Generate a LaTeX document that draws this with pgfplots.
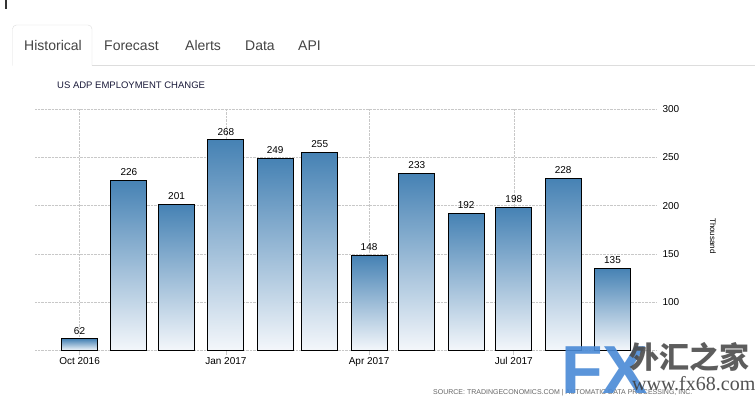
\documentclass[border=0pt]{standalone}
\usepackage{pgfplots}
\pgfplotsset{compat=1.18}
\usepackage{fontspec}
\setmainfont{Liberation Sans}
\newfontfamily\cjk{Noto Sans CJK SC}
\newfontfamily\serifw{Liberation Serif}
\definecolor{bartop}{HTML}{4682B4}
\definecolor{barbot}{HTML}{F4F7FB}
\definecolor{gridc}{HTML}{C8C8C8}
\definecolor{titlec}{HTML}{1A1A3A}
\definecolor{tabtxt}{HTML}{444444}
\definecolor{tabline}{HTML}{DDDDDD}
\definecolor{fxblue}{HTML}{4A8AD6}
\tikzset{barstyle/.style={draw=black, line width=0.9bp, top color=bartop, bottom color=barbot}}
\begin{document}
\begin{tikzpicture}[x=1bp,y=1bp]
\path[use as bounding box] (0,0) rectangle (755,398);
\fill[white] (0,0) rectangle (755,398);
% top fragment
\draw[black!80, line width=1.2bp] (6,398) -- (6,389);
% tabs
\draw[tabline] (92,332.5) -- (755,332.5);
\draw[tabline, rounded corners=4bp] (12.5,332.5) -- (12.5,373) -- (92,373) -- (92,332.5);
\node[anchor=base west, inner sep=0, text=tabtxt, font=\fontsize{14bp}{16bp}\selectfont] at (24,348) {Historical};
\node[anchor=base west, inner sep=0, text=tabtxt, font=\fontsize{14bp}{16bp}\selectfont] at (104,348) {Forecast};
\node[anchor=base west, inner sep=0, text=tabtxt, font=\fontsize{14bp}{16bp}\selectfont] at (185,348) {Alerts};
\node[anchor=base west, inner sep=0, text=tabtxt, font=\fontsize{14bp}{16bp}\selectfont] at (245,348) {Data};
\node[anchor=base west, inner sep=0, text=tabtxt, font=\fontsize{14bp}{16bp}\selectfont] at (298,348) {API};
% title
\node[anchor=base west, inner sep=0, text=titlec, font=\fontsize{9.5bp}{11bp}\selectfont] at (57,310) {US ADP EMPLOYMENT CHANGE};
\begin{axis}[
  at={(35bp,47.5bp)}, anchor=south west,
  scale only axis, width=622bp, height=241.5bp,
  xmin=-28, xmax=363, ymin=50, ymax=300,
  axis x line*=bottom, axis y line*=right,
  axis line style={draw=none},
  xtick={0,92,182,273},
  xticklabels={Oct 2016,Jan 2017,Apr 2017,Jul 2017},
  ytick={100,150,200,250,300},
  extra y ticks={50}, extra y tick labels={},
  extra y tick style={grid=major},
  grid=major,
  major grid style={gridc, densely dotted, line width=0.6bp},
  tick align=outside,
  major tick length=4bp,
  xtick style={draw=gridc, line width=0.8bp},
  ytick style={draw=none},
  /pgf/number format/assume math mode=true,
  tick label style={font=\fontsize{10bp}{12bp}\selectfont, text=black},
  xticklabel style={yshift=1bp},
  yticklabel pos=right,
  yticklabel style={anchor=west, xshift=-2bp},
  ybar, bar width=22.6, bar shift=0pt,
  nodes near coords,
  nodes near coords style={font=\fontsize{10bp}{12bp}\selectfont, text=black, yshift=1bp},
]
\addplot[barstyle] coordinates {(0,62)};
\addplot[barstyle] coordinates {(31,226)};
\addplot[barstyle] coordinates {(61,201)};
\addplot[barstyle] coordinates {(92,268)};
\addplot[barstyle] coordinates {(123,249)};
\addplot[barstyle] coordinates {(151,255)};
\addplot[barstyle] coordinates {(182,148)};
\addplot[barstyle] coordinates {(212,233)};
\addplot[barstyle] coordinates {(243,192)};
\addplot[barstyle] coordinates {(273,198)};
\addplot[barstyle] coordinates {(304,228)};
\addplot[barstyle] coordinates {(335,135)};
\end{axis}
\node[rotate=-90, inner sep=0, text=black, font=\fontsize{8bp}{9bp}\selectfont] at (713,162) {Thousand};
% source
\node[anchor=base west, inner sep=0, text=black!60, font=\fontsize{7bp}{8bp}\selectfont] at (433,3.5) {SOURCE: TRADINGECONOMICS.COM | AUTOMATIC DATA PROCESSING, INC.};
% watermark
\node[anchor=base west, inner sep=0, text=fxblue, font=\fontsize{68bp}{70bp}\selectfont\bfseries, opacity=0.9] at (561,5) {FX};
\node[anchor=base west, inner sep=0, text=black!70, font=\fontsize{30bp}{32bp}\selectfont\cjk\bfseries, opacity=0.9] at (629,30) {外汇之家};
\node[anchor=base west, inner sep=0, text=black!75, font=\fontsize{20bp}{22bp}\selectfont\serifw, opacity=0.9] at (632,8) {www.fx68.com};
\end{tikzpicture}
\end{document}
